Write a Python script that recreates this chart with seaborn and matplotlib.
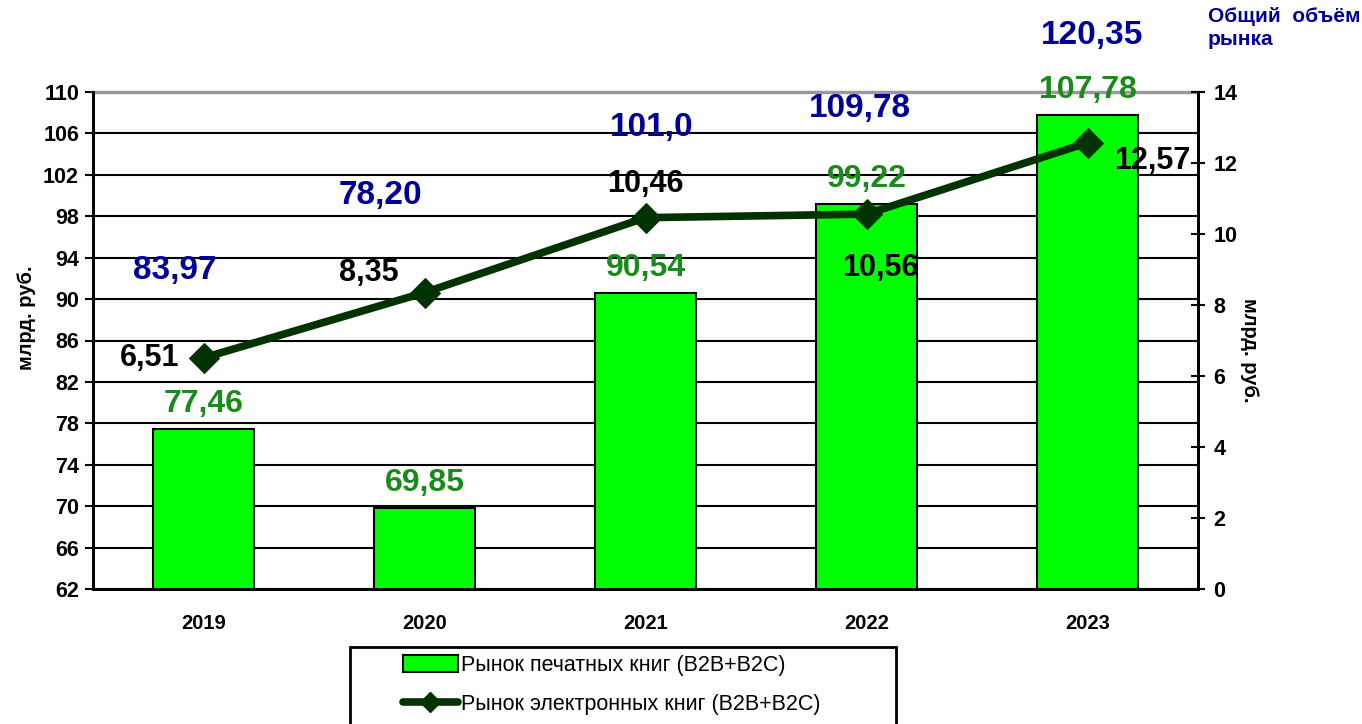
import numpy as np
import pandas as pd
import seaborn as sns
import matplotlib.pyplot as plt
from matplotlib.lines import Line2D
from matplotlib.patches import Patch, Rectangle

# данные
years = ['2019', '2020', '2021', '2022', '2023']
print_market = [77.46, 69.85, 90.54, 99.22, 107.78]
ebook_market = [6.51, 8.35, 10.46, 10.56, 12.57]
total_market = [83.97, 78.20, 101.0, 109.78, 120.35]
total_labels = ['83,97', '78,20', '101,0', '109,78', '120,35']
print_labels = ['77,46', '69,85', '90,54', '99,22', '107,78']
ebook_labels = ['6,51', '8,35', '10,46', '10,56', '12,57']

BAR_GREEN = '#00ff00'
LINE_GREEN = '#003300'
LBL_GREEN = '#1a8a1a'
LBL_BLUE = '#000099'

sns.set_style('white')
plt.rcParams['font.family'] = ['Liberation Sans', 'DejaVu Sans']
plt.rcParams['text.color'] = 'black'
plt.rcParams['xtick.color'] = 'black'
plt.rcParams['ytick.color'] = 'black'
plt.rcParams['axes.labelcolor'] = 'black'

df = pd.DataFrame({'year': years, 'print': print_market, 'ebook': ebook_market})
pos = np.arange(len(years))

fig = plt.figure(figsize=(13.62, 7.24), dpi=100)
ax = fig.add_axes([93 / 1362, 1 - 589 / 724, (1198 - 93) / 1362, (589 - 92) / 724])

ax.set_axisbelow(True)
ax.yaxis.grid(True, color='black', lw=1.5)
sns.barplot(data=df, x='year', y='print', ax=ax, color=BAR_GREEN, saturation=1,
            width=0.46, edgecolor='black', linewidth=1.5, zorder=2)
ax.set_xlim(-0.5, len(years) - 0.5)
ax.set_ylim(62, 110)
ax.set_yticks(np.arange(62, 111, 4))
ax.set_xlabel('')
ax.set_ylabel('')
ax.tick_params(axis='y', direction='out', length=6, width=1.5, labelsize=15.5, pad=4)
ax.tick_params(axis='x', which='major', length=0, labelsize=14.5, pad=18)
ax.set_xticks(pos[:-1] + 0.5, minor=True)
ax.tick_params(axis='x', which='minor', direction='inout', length=10, width=1.5)
for lbl in ax.get_xticklabels() + ax.get_yticklabels():
    lbl.set_fontweight('bold')
for s in ['left', 'bottom', 'right']:
    ax.spines[s].set_color('black')
    ax.spines[s].set_linewidth(2)
ax.spines['top'].set_color('#999999')
ax.spines['top'].set_linewidth(2.5)

# подписи печатных книг
for i, v in enumerate(print_market):
    ax.annotate(print_labels[i], (pos[i], v), xytext=(0, 18), textcoords='offset points',
                ha='center', va='center', fontsize=23, fontweight='bold', color=LBL_GREEN,
                annotation_clip=False, zorder=5)

# общий объём рынка
total_dx = [-0.13, -0.2, 0.03, -0.03, 0.02]
total_y = [92.8, 99.96, 106.6, 108.45, 115.5]
for i in range(len(years)):
    ax.text(pos[i] + total_dx[i], total_y[i], total_labels[i], ha='center', va='center',
            fontsize=24, fontweight='bold', color=LBL_BLUE, clip_on=False, zorder=5)

# электронные книги
ax2 = ax.twinx()
sns.lineplot(x=pos, y=ebook_market, ax=ax2, color=LINE_GREEN, lw=5.5, marker='D',
             markersize=15, markeredgecolor=LINE_GREEN, zorder=4)
ax2.set_ylim(0, 14)
ax2.set_yticks(np.arange(0, 15, 2))
ax2.tick_params(axis='y', direction='inout', length=10, width=1.5, labelsize=15.5, pad=6)
for lbl in ax2.get_yticklabels():
    lbl.set_fontweight('bold')
for s in ['left', 'bottom', 'right']:
    ax2.spines[s].set_color('black')
    ax2.spines[s].set_linewidth(2)
ax2.spines['top'].set_visible(False)

ebook_off = [(-39, 0), (-40, 14), (0, 24), (10, -39), (47, -13)]
for i, v in enumerate(ebook_market):
    ax2.annotate(ebook_labels[i], (pos[i], v), xytext=ebook_off[i], textcoords='offset points',
                 ha='center', va='center', fontsize=22, fontweight='bold', color='black',
                 annotation_clip=False, zorder=6)

fig.text(27 / 1362, 1 - 318 / 724, 'млрд. руб.', rotation=90, ha='center', va='center',
         fontsize=14.5, fontweight='bold')
fig.text(1250 / 1362, 1 - 350 / 724, 'млрд. руб.', rotation=270, ha='center', va='center',
         fontsize=14.5, fontweight='bold')
fig.text(1208 / 1362, 1 - 7 / 724, 'Общий  объём\nрынка', ha='left', va='top',
         fontsize=15, fontweight='bold', color=LBL_BLUE, linespacing=1.25)

# легенда
fig.patches.append(Rectangle((350 / 1362, -0.05), (896 - 350) / 1362, 0.05 + (724 - 647) / 724,
                             transform=fig.transFigure, fill=False, edgecolor='black', lw=2))
handles = [Patch(facecolor=BAR_GREEN, edgecolor='black', lw=1.5),
           Line2D([0], [0], color=LINE_GREEN, lw=5.5, marker='D', markersize=10)]
fig.legend(handles, ['Рынок печатных книг (B2B+B2C)', 'Рынок электронных книг (B2B+B2C)'],
           loc='upper left', bbox_to_anchor=(403 / 1362, 1 - 655 / 724), frameon=False,
           fontsize=15.5, handlelength=2.55, handleheight=0.85, handletextpad=0.15,
           labelspacing=0.85, borderpad=0, borderaxespad=0)

fig.savefig('out.png', dpi=100)
